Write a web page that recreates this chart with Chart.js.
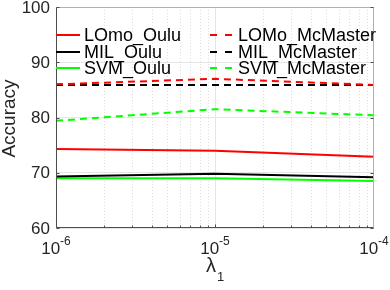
<!DOCTYPE html>
<html>
<head>
<meta charset="utf-8">
<script src="https://cdn.jsdelivr.net/npm/chart.js@4.4.1/dist/chart.umd.min.js"></script>
<style>
  html, body { margin: 0; padding: 0; background: #fff; }
  #wrap { width: 390px; height: 290px; position: relative; }
</style>
</head>
<body>
<div id="wrap"><canvas id="chart"></canvas></div>
<script>
// lambda_1 values on the x axis
const lambdas = [1e-6, 1e-5, 1e-4];
const xTickExps = [-6, -5, -4];
const yTicks = [60, 70, 80, 90, 100];

// accuracy per method
const lomoOulu = [74.3, 74.0, 72.9];
const milOulu = [69.3, 69.8, 69.2];
const svmOulu = [69.0, 69.0, 68.5];
const lomoMcMaster = [86.0, 87.0, 85.9];
const milMcMaster = [85.9, 85.9, 85.9];
const svmMcMaster = [79.4, 81.5, 80.4];

const FONT = '"Liberation Sans", Arial, Helvetica, sans-serif';

function pts(vals) {
    return lambdas.map((x, i) => ({ x: x, y: vals[i] }));
}

function series(label, vals, color, dashed) {
    return {
        label: label,
        data: pts(vals),
        borderColor: color,
        borderWidth: 2,
        borderDash: dashed ? [7, 5] : [],
        pointRadius: 0,
        fill: false,
        tension: 0
    };
}

const datasets = [
    series('LOmo_Oulu', lomoOulu, '#ff0000', false),
    series('MIL_Oulu', milOulu, '#000000', false),
    series('SVM_Oulu', svmOulu, '#00ff00', false),
    series('LOMo_McMaster', lomoMcMaster, '#ff0000', true),
    series('MIL_McMaster', milMcMaster, '#000000', true),
    series('SVM_McMaster', svmMcMaster, '#00ff00', true)
];

// minor grid + x major grid, drawn under the lines
const gridPlugin = {
    id: 'grid',
    beforeDatasetsDraw(chart) {
        const ctx = chart.ctx, a = chart.chartArea, xs = chart.scales.x;
        ctx.save();
        ctx.lineWidth = 1;
        for (let e = -6; e < -4; e++) {
            for (let m = 2; m <= 9; m++) {
                const px = Math.round(xs.getPixelForValue(m * Math.pow(10, e))) + 0.5;
                ctx.strokeStyle = '#dedede';
                ctx.setLineDash([1, 2]);
                ctx.beginPath(); ctx.moveTo(px, a.top); ctx.lineTo(px, a.bottom); ctx.stroke();
            }
        }
        ctx.setLineDash([]);
        ctx.strokeStyle = '#e6e6e6';
        const px = Math.round(xs.getPixelForValue(1e-5)) + 0.5;
        ctx.beginPath(); ctx.moveTo(px, a.top); ctx.lineTo(px, a.bottom); ctx.stroke();
        ctx.restore();
    }
};

// box, ticks, labels and legend on top
const decorPlugin = {
    id: 'decor',
    afterDraw(chart) {
        const ctx = chart.ctx, a = chart.chartArea;
        const xs = chart.scales.x, ys = chart.scales.y;
        ctx.save();

        // axes box
        const L = Math.round(a.left) + 0.5, R = Math.round(a.right) - 0.5;
        const T = Math.round(a.top) + 0.5, B = Math.round(a.bottom) - 0.5;
        ctx.lineWidth = 1;
        ctx.strokeStyle = '#b0b0b0';
        ctx.beginPath(); ctx.moveTo(L, T); ctx.lineTo(R, T); ctx.lineTo(R, B); ctx.stroke();
        ctx.strokeStyle = '#4d4d4d';
        ctx.beginPath(); ctx.moveTo(L, T); ctx.lineTo(L, B); ctx.lineTo(R, B); ctx.stroke();

        // tick marks
        yTicks.forEach(v => {
            const py = Math.round(ys.getPixelForValue(v)) + 0.5;
            ctx.beginPath(); ctx.moveTo(L, py); ctx.lineTo(L + 3, py); ctx.stroke();
            ctx.beginPath(); ctx.moveTo(R, py); ctx.lineTo(R - 3, py); ctx.stroke();
        });
        for (let e = -6; e < -4; e++) {
            for (let m = 1; m <= 9; m++) {
                const px = Math.round(xs.getPixelForValue(m * Math.pow(10, e))) + 0.5;
                const len = m === 1 ? 3 : 2;
                ctx.beginPath(); ctx.moveTo(px, B); ctx.lineTo(px, B - len); ctx.stroke();
            }
        }

        // y tick labels
        ctx.fillStyle = '#262626';
        ctx.font = '17px ' + FONT;
        ctx.textAlign = 'right';
        ctx.textBaseline = 'middle';
        yTicks.forEach(v => {
            ctx.fillText(String(v), a.left - 6, ys.getPixelForValue(v) + 1);
        });

        // x tick labels 10^e
        ctx.textBaseline = 'alphabetic';
        xTickExps.forEach(e => {
            const px = xs.getPixelForValue(Math.pow(10, e));
            ctx.font = '17px ' + FONT;
            const wBase = ctx.measureText('10').width;
            ctx.font = '12px ' + FONT;
            const sup = String(e);
            const wSup = ctx.measureText(sup).width;
            const x0 = px - (wBase + wSup) / 2;
            ctx.textAlign = 'left';
            ctx.font = '17px ' + FONT;
            ctx.fillText('10', x0, a.bottom + 26);
            ctx.font = '12px ' + FONT;
            ctx.fillText(sup, x0 + wBase, a.bottom + 17);
        });

        // axis titles
        const cx = (a.left + a.right) / 2;
        ctx.font = '20px ' + FONT;
        ctx.textAlign = 'left';
        const wl = ctx.measureText('λ').width;
        ctx.fillText('λ', cx - wl / 2 - 4, a.bottom + 44);
        ctx.font = '13px ' + FONT;
        ctx.fillText('1', cx + wl / 2 - 3, a.bottom + 53);

        ctx.save();
        ctx.translate(10, (a.top + a.bottom) / 2 + 1);
        ctx.rotate(-Math.PI / 2);
        ctx.textAlign = 'center';
        ctx.textBaseline = 'middle';
        ctx.font = '19px ' + FONT;
        ctx.fillText('Accuracy', 0, 0);
        ctx.restore();

        // legend, two columns
        ctx.font = '18px ' + FONT;
        ctx.textAlign = 'left';
        ctx.textBaseline = 'middle';
        const cols = [a.left, a.left + 154];
        const rows = [a.top + 28, a.top + 45, a.top + 61];
        datasets.forEach((ds, i) => {
            const col = Math.floor(i / 3), row = i % 3;
            const lx = cols[col], ly = rows[row];
            ctx.strokeStyle = ds.borderColor;
            ctx.lineWidth = 2;
            ctx.setLineDash(ds.borderDash.length ? [7, 8] : []);
            ctx.beginPath(); ctx.moveTo(lx, ly); ctx.lineTo(lx + 24, ly); ctx.stroke();
            ctx.setLineDash([]);
            ctx.fillStyle = '#000';
            ctx.fillText(ds.label, lx + 28, ly + 1);
        });

        ctx.restore();
    }
};

new Chart(document.getElementById('chart'), {
    type: 'line',
    data: { datasets: datasets },
    options: {
        responsive: true,
        maintainAspectRatio: false,
        animation: false,
        layout: { padding: { left: 56, top: 7, right: 16, bottom: 54 } },
        plugins: { legend: { display: false }, tooltip: { enabled: false } },
        scales: {
            x: {
                type: 'logarithmic',
                min: 1e-6,
                max: 1e-4,
                ticks: { display: false },
                grid: { display: false },
                border: { display: false }
            },
            y: {
                min: 60,
                max: 100,
                ticks: { display: false, stepSize: 10 },
                grid: { color: '#e6e6e6', drawTicks: false },
                border: { display: false }
            }
        }
    },
    plugins: [gridPlugin, decorPlugin]
});
</script>
</body>
</html>
